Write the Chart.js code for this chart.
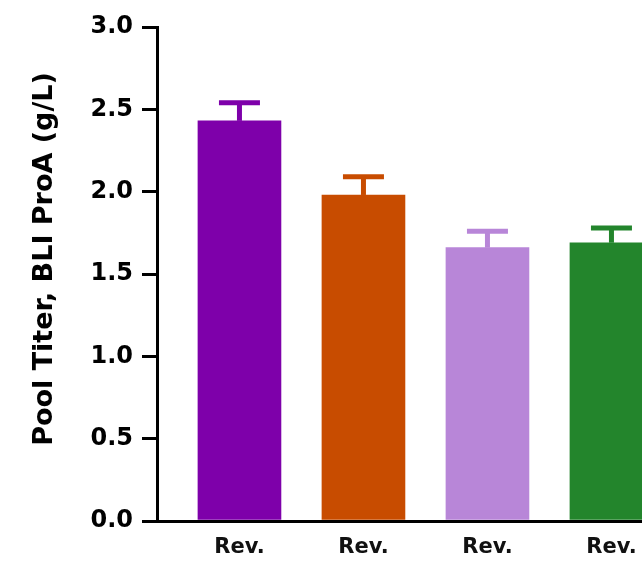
<!DOCTYPE html>
<html>
<head>
<meta charset="utf-8">
<script src="https://cdn.jsdelivr.net/npm/chart.js@4/dist/chart.umd.min.js"></script>
<style>
  html, body { margin: 0; padding: 0; background: #fff; overflow: hidden; width: 642px; height: 567px; }
  #wrap { position: relative; width: 700px; height: 600px; }
</style>
</head>
<body>
<div id="wrap"><canvas id="c" width="700" height="600"></canvas></div>
<script>
// Pool titer per condition (BLI ProA), mean and upper SD
const categories = ['Rev.', 'Rev.', 'Rev.', 'Rev.'];
const titerMeans = [2.43, 1.98, 1.66, 1.69];
const titerErrors = [0.11, 0.11, 0.10, 0.09];
const barColors = ['#7E00AA', '#C84C00', '#B886D8', '#23852C'];
const yTicks = [0, 0.5, 1.0, 1.5, 2.0, 2.5, 3.0];
const yAxisTitle = 'Pool Titer, BLI ProA (g/L)';

const CANVAS_W = 700, CANVAS_H = 600;
const AXIS_LEFT = 157, PLOT_BOTTOM = 521, SLOT = 124, X_MIN = -0.665;

// Upper error bars (stem + cap) in each bar's colour
const errorBars = {
  id: 'errorBars',
  afterDatasetsDraw(chart) {
    const meta = chart.getDatasetMeta(0);
    const y = chart.scales.y;
    const ctx = chart.ctx;
    ctx.save();
    ctx.lineWidth = 5;
    ctx.lineCap = 'butt';
    meta.data.forEach((bar, i) => {
      const top = y.getPixelForValue(titerMeans[i] + titerErrors[i]);
      ctx.strokeStyle = barColors[i];
      ctx.beginPath();
      ctx.moveTo(bar.x, bar.y);
      ctx.lineTo(bar.x, top);
      ctx.stroke();
      ctx.beginPath();
      ctx.moveTo(bar.x - 20.5, top);
      ctx.lineTo(bar.x + 20.5, top);
      ctx.stroke();
    });
    ctx.restore();
  }
};

// Rotated y-axis title
const yTitle = {
  id: 'yTitle',
  afterDraw(chart) {
    const { ctx, chartArea } = chart;
    ctx.save();
    ctx.translate(45, (chartArea.top + chartArea.bottom) / 2 - 15);
    ctx.rotate(-Math.PI / 2);
    ctx.font = 'bold 27px "DejaVu Sans"';
    ctx.textAlign = 'center';
    ctx.textBaseline = 'middle';
    ctx.fillStyle = '#000';
    ctx.fillText(yAxisTitle, 0, 0);
    ctx.restore();
  }
};

new Chart(document.getElementById('c'), {
  type: 'bar',
  data: {
    datasets: [{
      data: categories.map((c, i) => ({ x: i, y: titerMeans[i] })),
      backgroundColor: barColors,
      borderWidth: 0,
      barThickness: 83
    }]
  },
  options: {
    responsive: false,
    animation: false,
    devicePixelRatio: 1,
    layout: { padding: { top: 27, left: 0, right: 0, bottom: 0 } },
    plugins: { legend: { display: false }, tooltip: { enabled: false } },
    scales: {
      x: {
        type: 'linear',
        offset: false,
        min: X_MIN,
        max: X_MIN + (CANVAS_W - AXIS_LEFT) / SLOT,
        afterBuildTicks: s => { s.ticks = categories.map((c, i) => ({ value: i })); },
        afterFit: s => { s.height = CANVAS_H - PLOT_BOTTOM; },
        grid: { display: false, drawTicks: false },
        border: { display: true, color: '#000', width: 3 },
        ticks: {
          callback: v => categories[v],
          autoSkip: false,
          maxRotation: 0,
          padding: 14,
          color: '#111',
          font: { family: 'DejaVu Sans', size: 21, weight: 'bold' }
        }
      },
      y: {
        min: 0,
        max: 3,
        afterBuildTicks: s => { s.ticks = yTicks.map(v => ({ value: v })); },
        afterFit: s => { s.width = AXIS_LEFT; },
        grid: { drawOnChartArea: false, drawTicks: true, tickLength: 15, color: '#000', lineWidth: 3 },
        border: { display: true, color: '#000', width: 3 },
        ticks: {
          callback: v => v.toFixed(1),
          padding: 9,
          color: '#000',
          font: { family: 'DejaVu Sans', size: 24, weight: 'bold' }
        }
      }
    }
  },
  plugins: [errorBars, yTitle]
});
</script>
</body>
</html>
